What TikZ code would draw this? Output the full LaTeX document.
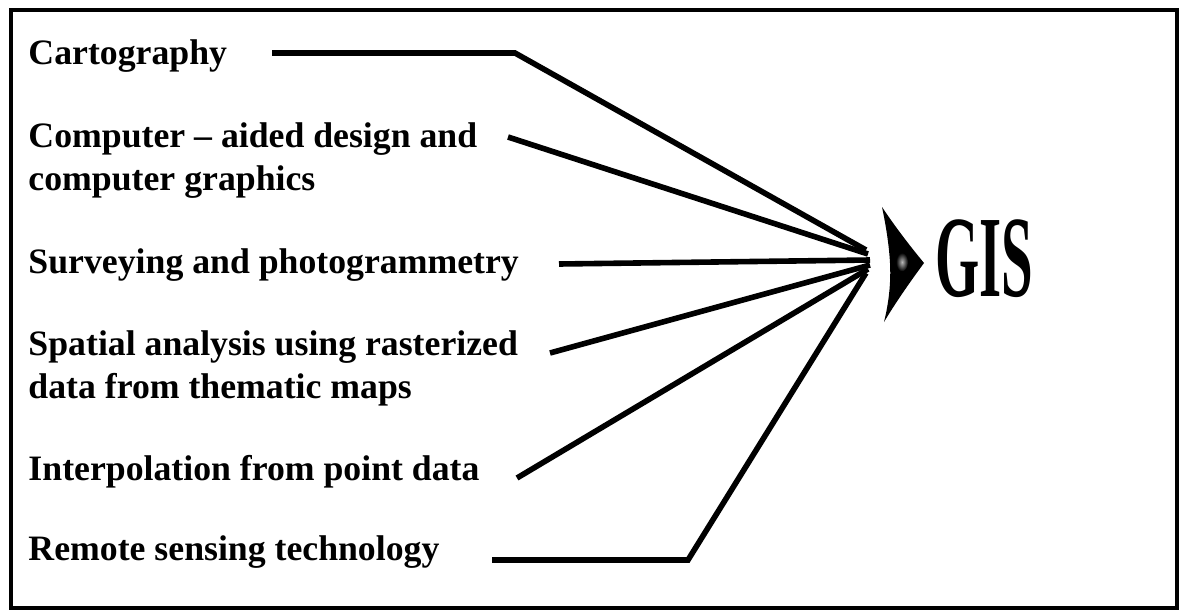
\documentclass[tikz,border=0pt]{standalone}
\usepackage{fontspec}
\setmainfont{Liberation Serif}

\tikzset{every picture/.style={line width=0.75pt}}
\tikzset{
  srcText/.style={anchor=base west, inner sep=0pt, align=left, font=\fontsize{26.8}{32.25}\selectfont\bfseries},
  feedLine/.style={line width=4.2pt, line join=miter},
}

\begin{document}
\begin{tikzpicture}[x=0.75pt,y=0.75pt,yscale=-1,xscale=1]
\useasboundingbox (0,0) rectangle (1185,614);

%Shape: Rectangle [frame]
\draw [line width=2.5pt] (11,10) rectangle (1177,608) ;

% Text Node
\node (carto) [srcText] at (28,64) {Cartography};
% Text Node (base = last line)
\node (cad) [srcText] at (28,190) {Computer – aided design and\\computer graphics};
% Text Node
\node (survey) [srcText] at (28,273) {Surveying and photogrammetry};
% Text Node (base = last line)
\node (spatial) [srcText] at (28,398) {Spatial analysis using rasterized\\data from thematic maps};
% Text Node
\node (interp) [srcText] at (28,480) {Interpolation from point data};
% Text Node
\node (remote) [srcText] at (28,560) {Remote sensing technology};

% Text Node [GIS]
\node (gis) [inner sep=0pt, font=\fontsize{87}{87}\selectfont\bfseries] at (984,259) {\scalebox{0.49}[1]{GIS}};

%Shape: Arrow head
\fill (882,207) .. controls (896,228) and (910,246) .. (924,263) .. controls (910,282) and (896,302) .. (884,322) .. controls (889,302) and (891,282) .. (890,263) .. controls (889,245) and (886,226) .. (882,207) -- cycle ;
\shade [inner color=gray!55, outer color=black] (902,262) ellipse (4.5pt and 7pt) ;

% hub ends
\coordinate (hubA) at (866,250);
\coordinate (hubB) at (868,254);
\coordinate (hubC) at (870,260);
\coordinate (hubD) at (870,265);
\coordinate (hubE) at (868,269);
\coordinate (hubF) at (866,273);
% free ends
\coordinate (cartoS) at (272,53);
\coordinate (cartoK) at (515,53);
\coordinate (cadS) at (508,137);
\coordinate (surveyS) at (559,264);
\coordinate (spatialS) at (550,353);
\coordinate (interpS) at (517,478);
\coordinate (remoteS) at (492,560);
\coordinate (remoteK) at (688,560);

%Straight Lines
\draw [feedLine] (cartoS) -- (cartoK) -- (hubA) ;
\draw [feedLine] (cadS) -- (hubB) ;
\draw [feedLine] (surveyS) -- (hubC) ;
\draw [feedLine] (spatialS) -- (hubD) ;
\draw [feedLine] (interpS) -- (hubE) ;
\draw [feedLine] (remoteS) -- (remoteK) -- (hubF) ;

\end{tikzpicture}
\end{document}
